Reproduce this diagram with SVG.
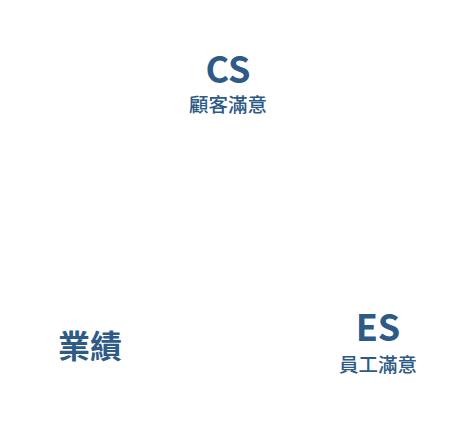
<svg xmlns="http://www.w3.org/2000/svg" width="468" height="435" viewBox="0 0 468 435">
<style>
text{fill:#2d5a86;font-family:"Noto Sans CJK TC","Noto Sans",sans-serif;font-weight:700;text-anchor:middle}
.en{font-size:36px}
.sub{font-size:19.5px;font-weight:500}
.big{font-size:32px}
</style>
<rect width="468" height="435" fill="#ffffff"/>
<g id="cs">
<text class="en" x="228" y="83">CS</text>
<text class="sub" x="228" y="112">顧客滿意</text>
</g>
<g id="performance">
<text class="big" x="90" y="358">業績</text>
</g>
<g id="es">
<text class="en" x="378" y="341">ES</text>
<text class="sub" x="378" y="372">員工滿意</text>
</g>
<g id="connectors"></g>
</svg>
